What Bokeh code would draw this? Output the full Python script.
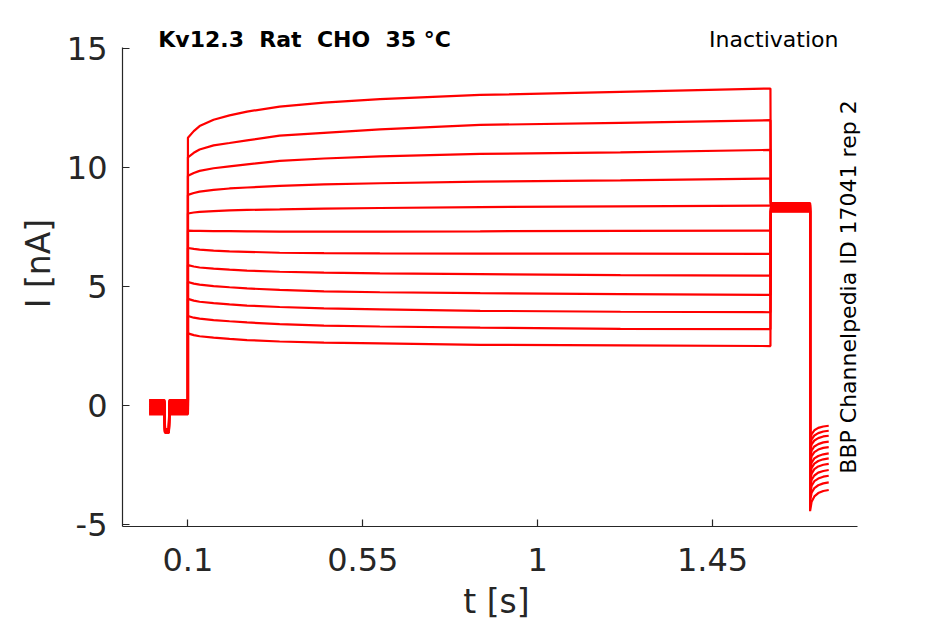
import numpy as np
from bokeh.plotting import figure
from bokeh.models import Range1d, FixedTicker, Label
from bokeh.embed import file_html
from bokeh.resources import INLINE

# ---------------- data ----------------
step_t = [0.1, 0.115, 0.13, 0.166, 0.207, 0.252, 0.336, 0.45, 0.594, 0.852, 1.213, 1.599]
step_i = [
    [11.24, 11.52, 11.73, 12.00, 12.18, 12.34, 12.55, 12.72, 12.86, 13.04, 13.17, 13.31],
    [10.42, 10.61, 10.75, 10.92, 11.02, 11.13, 11.33, 11.45, 11.59, 11.78, 11.87, 11.98],
    [9.64, 9.76, 9.85, 9.96, 10.04, 10.12, 10.27, 10.37, 10.46, 10.56, 10.63, 10.73],
    [8.84, 8.92, 8.98, 9.05, 9.11, 9.15, 9.22, 9.28, 9.33, 9.40, 9.45, 9.53],
    [8.06, 8.10, 8.13, 8.16, 8.19, 8.21, 8.23, 8.26, 8.29, 8.33, 8.36, 8.39],
    [7.34, 7.33, 7.33, 7.32, 7.32, 7.31, 7.30, 7.30, 7.30, 7.31, 7.33, 7.34],
    [6.61, 6.57, 6.54, 6.50, 6.47, 6.45, 6.41, 6.39, 6.38, 6.37, 6.37, 6.36],
    [5.89, 5.83, 5.79, 5.74, 5.70, 5.66, 5.61, 5.57, 5.54, 5.51, 5.47, 5.45],
    [5.18, 5.11, 5.07, 5.01, 4.96, 4.91, 4.85, 4.79, 4.75, 4.71, 4.67, 4.64],
    [4.47, 4.40, 4.35, 4.29, 4.24, 4.19, 4.13, 4.07, 4.03, 3.97, 3.93, 3.91],
    [3.75, 3.68, 3.64, 3.58, 3.53, 3.48, 3.41, 3.35, 3.31, 3.26, 3.21, 3.20],
    [3.02, 2.95, 2.90, 2.84, 2.79, 2.74, 2.68, 2.63, 2.60, 2.54, 2.52, 2.49],
]
hold_i = [0.22, 0.17, 0.12, 0.06, 0.0, -0.05, -0.10, -0.16, -0.21, -0.27, -0.32, -0.38]
spike_i = [-1.00, -1.03, -1.05, -1.07, -1.09, -1.10, -1.11, -1.12, -1.13, -1.14, -1.15, -1.15]
spike_t = [0.0, 0.040, 0.041, 0.051, 0.052]  # start, down, min, min, up
hold_end_t = 0.1
tail_hold_t = [1.6, 1.701]
tail_hold_i = [8.50, 8.47, 8.43, 8.40, 8.36, 8.33, 8.29, 8.26, 8.22, 8.19, 8.16, 8.14]
fan_t = [1.701, 1.705, 1.712, 1.722, 1.735, 1.749]
fan_i = [
    [-1.49, -1.21, -1.05, -0.95, -0.89, -0.86],
    [-1.72, -1.43, -1.27, -1.17, -1.10, -1.07],
    [-1.94, -1.64, -1.48, -1.38, -1.31, -1.28],
    [-2.21, -1.90, -1.73, -1.63, -1.56, -1.53],
    [-2.45, -2.14, -1.97, -1.86, -1.79, -1.76],
    [-2.73, -2.41, -2.23, -2.13, -2.06, -2.02],
    [-2.95, -2.63, -2.45, -2.34, -2.27, -2.23],
    [-3.20, -2.87, -2.68, -2.57, -2.50, -2.46],
    [-3.47, -3.13, -2.95, -2.83, -2.76, -2.72],
    [-3.73, -3.38, -3.19, -3.08, -3.00, -2.96],
    [-4.03, -3.67, -3.48, -3.36, -3.28, -3.24],
    [-4.45, -4.05, -3.83, -3.69, -3.60, -3.56],
]
x_ticks = [0.1, 0.55, 1, 1.45]
x_tick_labels = ["0.1", "0.55", "1", "1.45"]
y_ticks = [-5, 0, 5, 10, 15]
y_tick_labels = ["-5", "0", "5", "10", "15"]
x_axis_span = (-0.0684, 1.8232)
y_axis_span = (-5.093, 15.03)

FONT = "DejaVu Sans"
TXT = "#262626"
NB = "\u00a0"

p = figure(width=930, height=623, output_backend="svg", toolbar_location=None,
           x_range=Range1d(-0.0684, 1.8565), y_range=Range1d(-5.093, 17.008),
           min_border_left=122, min_border_right=60, min_border_top=0, min_border_bottom=97)
p.title = None
p.outline_line_color = None
p.grid.visible = False
p.background_fill_color = "white"

for k in range(len(step_i)):
    h = hold_i[k]
    s = spike_i[k]
    t = ([spike_t[0], spike_t[1], spike_t[2], spike_t[3], spike_t[4], hold_end_t]
         + step_t + tail_hold_t + fan_t)
    y = ([h, h, s, s, h, h] + step_i[k] + [tail_hold_i[k], tail_hold_i[k]] + fan_i[k])
    p.line(t, y, line_color="#ff0000", line_width=2.2)

for ax in (p.xaxis[0], p.yaxis[0]):
    ax.axis_line_color = TXT
    ax.axis_line_width = 1.2
    ax.major_tick_line_color = TXT
    ax.major_tick_line_width = 1.2
    ax.major_tick_in = 7
    ax.major_tick_out = 0
    ax.minor_tick_line_color = None
    ax.major_label_text_font = FONT
    ax.major_label_text_font_size = "32px"
    ax.major_label_text_color = TXT
    ax.axis_label_text_font = FONT
    ax.axis_label_text_font_size = "33px"
    ax.axis_label_text_font_style = "normal"
    ax.axis_label_text_color = TXT

p.xaxis.bounds = x_axis_span
p.yaxis.bounds = y_axis_span
p.xaxis.ticker = FixedTicker(ticks=x_ticks)
p.xaxis.major_label_overrides = {v: l for v, l in zip(x_ticks, x_tick_labels)}
p.yaxis.ticker = FixedTicker(ticks=y_ticks)
p.yaxis.major_label_overrides = {v: l for v, l in zip(y_ticks, y_tick_labels)}
p.xaxis.axis_label = "t [s]"
p.yaxis.axis_label = "I [nA]"
p.xaxis.major_label_standoff = 21
p.yaxis.major_label_standoff = 15
p.xaxis.axis_label_standoff = 8
p.yaxis.axis_label_standoff = 6

p.add_layout(Label(x=0.0237, y=15.38,
                   text="Kv12.3 " + NB + "Rat " + NB + "CHO " + NB + "35 °C", text_font=FONT,
                   text_font_size="22px", text_font_style="bold", text_color="black",
                   text_align="left", text_baseline="alphabetic"))
p.add_layout(Label(x=1.774, y=15.38,
                   text="Inactivation", text_font=FONT,
                   text_font_size="22px", text_color="black",
                   text_align="right", text_baseline="alphabetic"))
p.add_layout(Label(x=1.8000, y=4.97,
                   text="BBP Channelpedia ID 17041 rep 2", text_font=FONT,
                   text_font_size="22px", text_color="black", angle=np.pi / 2,
                   text_align="center", text_baseline="alphabetic"))

open("out.html", "w").write(file_html(p, INLINE))
